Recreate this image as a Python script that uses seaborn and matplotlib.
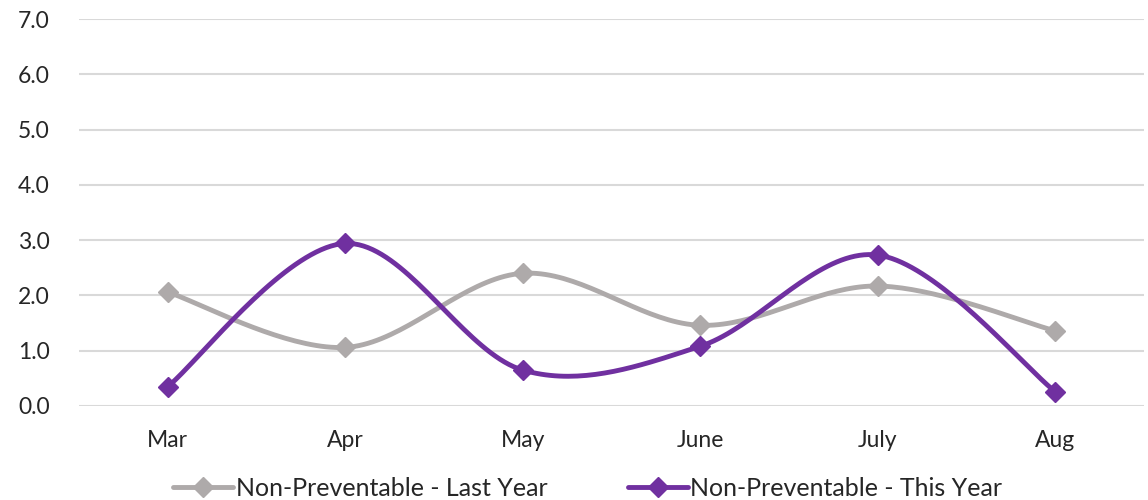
import numpy as np
import pandas as pd
import matplotlib
matplotlib.use("Agg")
import matplotlib.pyplot as plt
from matplotlib.lines import Line2D
import seaborn as sns

months = ["Mar", "Apr", "May", "June", "July", "Aug"]
last_year = [2.06, 1.06, 2.40, 1.46, 2.17, 1.36]
this_year = [0.35, 2.94, 0.65, 1.08, 2.73, 0.26]

GREY = "#AEAAAA"
PURPLE = "#7030A0"
GRID = "#D9D9D9"


def smooth_curve(xs, ys, steps=40):
    # Excel-style smoothed line: cubic bezier through the points (Catmull-Rom tangents)
    pts = np.column_stack([xs, ys]).astype(float)
    out = []
    n = len(pts)
    for i in range(n - 1):
        p0 = pts[max(i - 1, 0)]
        p1 = pts[i]
        p2 = pts[i + 1]
        p3 = pts[min(i + 2, n - 1)]
        c1 = p1 + (p2 - p0) / 6.0
        c2 = p2 - (p3 - p1) / 6.0
        t = np.linspace(0, 1, steps)[:, None]
        seg = ((1 - t) ** 3) * p1 + 3 * ((1 - t) ** 2) * t * c1 + 3 * (1 - t) * t ** 2 * c2 + t ** 3 * p2
        out.append(seg if i == 0 else seg[1:])
    out = np.vstack(out)
    return out[:, 0], out[:, 1]


sns.set_theme(style="white")
plt.rcParams["font.family"] = ["Lato", "DejaVu Sans"]

fig = plt.figure(figsize=(11.48, 5), dpi=100)
ax = fig.add_axes([0.0688, 0.188, 0.9277, 0.774])

x = np.arange(len(months))
series = [("Non-Preventable - Last Year", last_year, GREY),
          ("Non-Preventable - This Year", this_year, PURPLE)]

handles = []
for name, vals, color in series:
    sx, sy = smooth_curve(x, vals)
    sns.lineplot(x=sx, y=sy, ax=ax, color=color, linewidth=3.5, sort=False, zorder=3)
    ax.plot(x, vals, linestyle="none", marker="D", markersize=10, color=color, zorder=4)
    handles.append(Line2D([0], [0], color=color, linewidth=3.5, marker="D", markersize=10))

ax.set_xlim(-0.5, len(months) - 0.5)
ax.set_ylim(0, 7)
ax.set_yticks(np.arange(0, 8, 1))
ax.set_yticklabels([f"{v:.1f}" for v in np.arange(0, 8, 1)])
ax.set_xticks(x)
ax.set_xticklabels(months)
ax.grid(axis="y", color=GRID, linewidth=1.5, zorder=0)
ax.grid(axis="x", visible=False)
for s in ax.spines.values():
    s.set_visible(False)
ax.tick_params(axis="y", length=0, pad=21, labelsize=16.5, labelcolor="#262626")
ax.tick_params(axis="x", length=0, pad=17, labelsize=16.5, labelcolor="#262626")

fig.legend(handles, [s[0] for s in series], loc="center", bbox_to_anchor=(0.512, 0.024),
           ncol=2, frameon=False, fontsize=18, handlelength=2.4, handletextpad=0.1,
           columnspacing=3.2, labelcolor="#262626")

fig.savefig("out.png", dpi=100)
